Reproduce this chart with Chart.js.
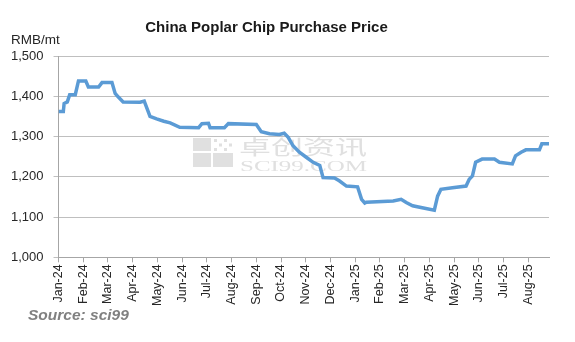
<!DOCTYPE html>
<html>
<head>
<meta charset="utf-8">
<script src="https://cdn.jsdelivr.net/npm/chart.js@4/dist/chart.umd.min.js"></script>
<style>
  html, body { margin: 0; padding: 0; background: #ffffff; }
  #wrap { width: 575px; height: 342px; position: relative; }
</style>
</head>
<body>
<div id="wrap"><canvas id="c" width="575" height="342"></canvas></div>
<script>
const titleText = 'China Poplar Chip Purchase Price';
const unitText = 'RMB/mt';
const sourceText = 'Source: sci99';
const monthLabels = ['Jan-24','Feb-24','Mar-24','Apr-24','May-24','Jun-24','Jul-24','Aug-24','Sep-24','Oct-24',
  'Nov-24','Dec-24','Jan-25','Feb-25','Mar-25','Apr-25','May-25','Jun-25','Jul-25','Aug-25'];
const yTicks = [1000, 1100, 1200, 1300, 1400, 1500];
const dates = [
  '2024-01-01','2024-01-07','2024-01-08','2024-01-12','2024-01-15','2024-01-22','2024-01-26',
  '2024-02-04','2024-02-07','2024-02-19','2024-02-23','2024-03-06','2024-03-10','2024-03-14',
  '2024-03-20','2024-04-10','2024-04-15','2024-04-22','2024-04-30','2024-05-09','2024-05-17',
  '2024-05-29','2024-06-21','2024-06-25','2024-07-03','2024-07-05','2024-07-23','2024-07-28',
  '2024-09-01','2024-09-07','2024-09-17','2024-09-29','2024-10-05','2024-10-10','2024-10-16',
  '2024-10-24','2024-11-02','2024-11-10','2024-11-18','2024-11-22','2024-12-06','2024-12-12',
  '2024-12-21','2025-01-04','2025-01-09','2025-01-13','2025-01-15','2025-02-16','2025-02-25',
  '2025-03-03','2025-03-11','2025-03-23','2025-04-07','2025-04-11','2025-04-15','2025-04-29',
  '2025-05-16','2025-05-20','2025-05-24','2025-05-28','2025-06-05','2025-06-20','2025-06-26',
  '2025-07-12','2025-07-16','2025-07-23','2025-07-29','2025-08-15','2025-08-18','2025-08-27'
];
const prices = [
  1362,1362,1382,1386,1404,1404,1438,
  1438,1423,1423,1434,1434,1407,1398,
  1386,1385,1388,1350,1344,1338,1334,
  1323,1322,1332,1333,1322,1322,1332,
  1330,1312,1307,1305,1308,1298,1277,
  1261,1248,1236,1228,1198,1197,1190,
  1177,1175,1144,1135,1137,1140,1144,
  1136,1128,1123,1117,1152,1169,1173,
  1177,1194,1202,1236,1244,1244,1236,
  1232,1252,1261,1267,1267,1282,1282
];

function monthIndex(s) {
  const [y, m, d] = s.split('-').map(Number);
  const dim = new Date(y, m, 0).getDate();
  return (y - 2024) * 12 + (m - 1) + (d - 1) / dim;
}
const points = dates.map((d, i) => ({ x: monthIndex(d), y: prices[i] }));
const xMax = points[points.length - 1].x;

const FONT = "'Liberation Sans', Arial, sans-serif";

const textPlugin = {
  id: 'texts',
  beforeDatasetsDraw(chart) {
    const ctx = chart.ctx;
    ctx.save();
    // watermark logo
    ctx.fillStyle = '#e0e0e0';
    ctx.fillRect(193, 138, 18, 13);
    ctx.fillRect(193, 153, 18, 14);
    ctx.fillRect(213, 153, 20, 14);
    for (let i = 0; i < 4; i++) {
      for (let j = 0; j < 3; j++) {
        if ((i + j) % 2 === 0) ctx.fillRect(214 + i * 5, 139 + j * 4.5, 3, 3);
      }
    }
    // watermark text
    ctx.fillStyle = '#e0e0e0';
    ctx.textBaseline = 'alphabetic';
    ctx.textAlign = 'left';
    ctx.font = "20px 'Noto Sans CJK SC', sans-serif";
    let w = ctx.measureText('卓创资讯').width;
    ctx.save();
    ctx.translate(239, 155);
    ctx.scale(128 / w, 1);
    ctx.fillText('卓创资讯', 0, 0);
    ctx.restore();
    ctx.font = "15px 'Liberation Serif', serif";
    w = ctx.measureText('SCI99.COM').width;
    ctx.save();
    ctx.translate(240, 171);
    ctx.scale(127 / w, 1);
    ctx.fillText('SCI99.COM', 0, 0);
    ctx.restore();
    ctx.restore();
  },
  afterDraw(chart) {
    const ctx = chart.ctx;
    ctx.save();
    ctx.textBaseline = 'alphabetic';
    ctx.fillStyle = '#1a1a1a';
    ctx.textAlign = 'center';
    ctx.font = 'bold 15px ' + FONT;
    ctx.fillText(titleText, 266.5, 31.5);
    ctx.textAlign = 'left';
    ctx.font = '13.5px ' + FONT;
    ctx.fillStyle = '#262626';
    ctx.fillText(unitText, 11, 44);
    ctx.fillStyle = '#808080';
    ctx.font = 'italic bold 15.5px ' + FONT;
    ctx.fillText(sourceText, 28, 320);
    ctx.restore();
  }
};

new Chart(document.getElementById('c'), {
  type: 'line',
  data: {
    datasets: [{
      data: points,
      borderColor: '#5b9bd5',
      borderWidth: 3.5,
      pointRadius: 0,
      tension: 0,
      fill: false
    }]
  },
  options: {
    responsive: false,
    animation: false,
    devicePixelRatio: 1,
    layout: { padding: { top: 56, left: 1, right: 26, bottom: 34 } },
    plugins: { legend: { display: false }, title: { display: false }, tooltip: { enabled: false } },
    scales: {
      x: {
        type: 'linear',
        min: 0,
        max: xMax,
        afterBuildTicks(scale) {
          scale.ticks = monthLabels.map((_, i) => ({ value: i }));
        },
        ticks: {
          autoSkip: false,
          minRotation: 90,
          maxRotation: 90,
          padding: 2,
          color: '#262626',
          font: { family: FONT, size: 12.5 },
          callback: (v) => monthLabels[v] || ''
        },
        grid: { drawOnChartArea: false, drawTicks: true, tickLength: 5, color: '#a6a6a6' },
        border: { color: '#a6a6a6', width: 1 }
      },
      y: {
        min: 1000,
        max: 1500,
        afterBuildTicks(scale) {
          scale.ticks = yTicks.map(v => ({ value: v }));
        },
        ticks: {
          padding: 10,
          color: '#262626',
          font: { family: FONT, size: 13 },
          callback: (v) => v.toLocaleString('en-US')
        },
        grid: { color: '#bfbfbf', tickLength: 5, lineWidth: 1 },
        border: { color: '#a6a6a6', width: 1 }
      }
    }
  },
  plugins: [textPlugin]
});
</script>
</body>
</html>
